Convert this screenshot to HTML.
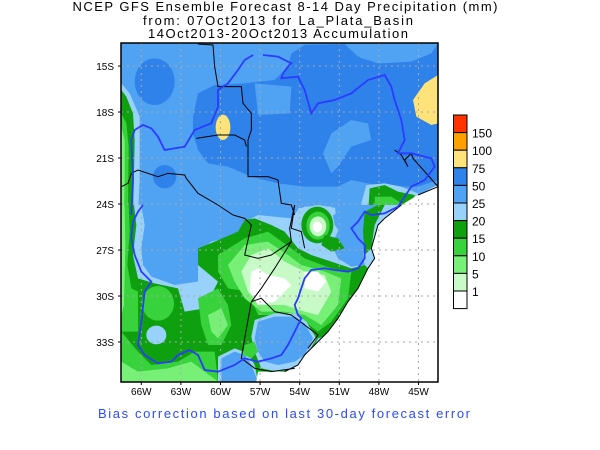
<!DOCTYPE html>
<html><head><meta charset="utf-8"><style>
html,body{margin:0;padding:0;background:#fff;}
svg{display:block;font-family:"Liberation Sans",sans-serif;}
polyline{vector-effect:non-scaling-stroke;}
</style></head><body>
<svg width="600" height="450" viewBox="0 0 600 450">
<defs><clipPath id="mc"><rect x="121" y="43" width="317" height="339"/></clipPath></defs>
<g font-size="13" fill="#000" text-anchor="middle">
<text x="285" y="11" textLength="425">NCEP GFS Ensemble Forecast 8-14 Day Precipitation (mm)</text>
<text x="278" y="25" textLength="270">from: 07Oct2013   for La_Plata_Basin</text>
<text x="278" y="38" textLength="260">14Oct2013-20Oct2013 Accumulation</text>
</g>
<g clip-path="url(#mc)">
<rect x="121" y="43" width="317" height="339" fill="#50a2f2"/>
<g transform="translate(118,40) scale(0.33333)">
 <ellipse cx="110" cy="125" rx="60" ry="70" fill="#2f82ea"/>
 <polygon fill="#2f82ea" points="225,230 240,160 290,135 380,130 470,120 510,80 520,40 560,15 680,12 720,50 780,70 870,60 930,20 960,12 960,420 900,440 800,440 700,420 660,440 560,440 480,430 400,410 330,380 270,370 240,330 225,280"/>
 <polygon fill="#50a2f2" points="615,340 640,280 700,240 750,250 760,300 700,320 660,380 640,400"/>
 <polygon fill="#50a2f2" points="410,130 520,140 515,220 420,225"/>
 <polygon fill="#50a2f2" points="680,10 960,10 940,40 880,65 790,70 730,55"/>
 <ellipse cx="140" cy="410" rx="35" ry="35" fill="#2f82ea"/>
 <ellipse cx="315" cy="262" rx="22" ry="38" fill="#fde37a"/>
 <polygon fill="#fde37a" points="960,105 920,130 885,180 895,230 940,255 960,250"/>
 <polygon fill="#98d2fa" points="10,130 35,160 65,230 65,420 60,525 10,525"/>
 <polygon fill="#0fa00f" points="10,150 25,170 45,220 50,300 48,400 45,525 10,525"/>
 <polygon fill="#37d23c" points="10,220 25,250 32,320 30,525 10,525"/>
 <polygon fill="#78f078" points="10,260 20,300 20,420 18,525 10,525"/>
 <polygon fill="#98d2fa" points="745,435 800,430 850,440 900,460 900,525 720,525"/>
 <polygon fill="#0fa00f" points="755,445 800,435 840,455 890,465 880,525 750,525"/>
 <polygon fill="#37d23c" points="770,470 820,470 850,490 820,525 770,525"/>
 <polygon fill="#98d2fa" points="540,505 600,495 660,505 650,525 540,525"/>
 <polygon fill="#0fa00f" points="555,515 600,500 640,505 640,525 555,525"/>
</g>
<g transform="translate(118,205) scale(0.33333)">
 <polygon fill="#98d2fa" points="70,0 80,60 70,130 75,180 100,215 170,240 240,230 240,140 280,110 360,90 380,50 420,30 520,40 540,15 560,5 640,5 650,60 680,100 700,50 740,20 800,0 960,0 960,530 10,530 10,0"/>
 <polygon fill="#50a2f2" points="80,0 90,60 85,150 100,190 170,215 220,210 215,140 260,100 350,75 370,30 420,12 520,20 530,0"/>
 <polygon fill="#50a2f2" points="650,0 800,0 760,40 745,90 735,150 740,180 700,185 660,160 640,120 660,80"/>
 <polygon fill="#0fa00f" points="10,0 48,0 55,60 45,150 60,220 110,235 180,250 200,320 260,310 300,230 240,180 240,130 290,110 360,80 380,45 410,40 460,60 500,80 540,130 580,150 640,170 700,190 740,180 760,200 700,300 660,380 600,400 550,490 500,530 10,530"/>
 <polygon fill="#37d23c" points="10,0 32,0 35,80 28,180 40,250 60,260 60,380 10,380"/>
 <polygon fill="#78f078" points="10,0 20,0 22,120 18,300 10,330"/>
 <polygon fill="#37d23c" points="10,380 60,440 100,480 180,470 230,440 290,440 300,530 10,530"/>
 <ellipse cx="120" cy="295" rx="48" ry="52" fill="#37d23c"/>
 <ellipse cx="115" cy="390" rx="30" ry="28" fill="#98d2fa"/>
 <polygon fill="#37d23c" points="240,280 300,250 330,300 340,360 310,420 270,420 250,360"/>
 <polygon fill="#37d23c" points="300,150 380,100 450,80 520,130 560,160 640,190 700,200 690,280 640,350 600,380 560,350 520,330 460,330 420,330 390,260 330,250 300,200"/>
 <polygon fill="#78f078" points="330,180 380,120 450,110 510,150 550,180 620,200 670,220 660,300 610,360 560,330 500,320 430,320 380,280 350,230"/>
 <polygon fill="#78f078" points="10,470 60,500 150,490 220,470 260,500 300,530 10,530"/>
 <polygon fill="#78f078" points="270,330 310,310 330,360 300,400 280,380"/>
 <polygon fill="#c8fac8" points="370,200 400,150 450,130 500,170 560,200 620,210 640,260 600,330 560,320 500,300 430,300 390,260"/>
 <polygon fill="#fff" points="400,200 420,190 450,210 500,220 520,240 470,290 420,300 395,260"/>
 <polygon fill="#fff" points="560,200 600,200 625,230 600,260 560,250"/>
 <ellipse cx="598" cy="60" rx="48" ry="55" fill="#0fa00f"/>
 <ellipse cx="600" cy="62" rx="35" ry="42" fill="#37d23c"/>
 <ellipse cx="600" cy="64" rx="25" ry="30" fill="#c8fac8"/>
 <ellipse cx="598" cy="66" rx="14" ry="16" fill="#fff"/>
 <polygon fill="#0fa00f" points="620,90 660,100 680,130 640,140 610,120"/>
 <polygon fill="#0fa00f" points="740,20 780,0 800,0 770,60 760,130 740,150 735,80"/>
 <polygon fill="#98d2fa" points="410,345 470,325 530,325 565,350 595,400 565,455 530,490 480,500 430,490 410,440 400,395"/>
 <polygon fill="#50a2f2" points="420,350 470,335 530,335 560,355 585,400 560,450 530,470 480,480 440,470 420,440 410,400"/>
 <polygon fill="#98d2fa" points="300,455 350,430 390,445 410,480 420,530 300,530"/>
 <polygon fill="#50a2f2" points="310,460 350,440 380,450 400,480 420,530 310,530"/>
 <polygon fill="#37d23c" points="380,420 410,410 420,440 400,460 375,450"/>
 <polygon fill="#fff" points="850,0 800,40 780,60 760,130 770,160 750,190 720,250 690,290 660,340 630,380 600,410 560,450 540,480 500,500 450,500 420,500 415,530 960,530 960,-60 900,-30"/>
</g>
<g stroke="#aaa" stroke-width="1" stroke-dasharray="2,4">
 <line x1="141.3" y1="43" x2="141.3" y2="382"/><line x1="180.9" y1="43" x2="180.9" y2="382"/><line x1="220.5" y1="43" x2="220.5" y2="382"/><line x1="260.1" y1="43" x2="260.1" y2="382"/><line x1="299.7" y1="43" x2="299.7" y2="382"/><line x1="339.3" y1="43" x2="339.3" y2="382"/><line x1="378.9" y1="43" x2="378.9" y2="382"/><line x1="418.5" y1="43" x2="418.5" y2="382"/>
 <line x1="121" y1="66" x2="438" y2="66"/><line x1="121" y1="112" x2="438" y2="112"/><line x1="121" y1="158" x2="438" y2="158"/><line x1="121" y1="204" x2="438" y2="204"/><line x1="121" y1="250" x2="438" y2="250"/><line x1="121" y1="296" x2="438" y2="296"/><line x1="121" y1="342" x2="438" y2="342"/>
</g>
<g fill="none" stroke="#000" stroke-width="1">
 <polyline transform="translate(118,40) scale(0.33333)" points="240,12 285,15 290,80 300,140 370,140 375,190 400,220 400,270 390,300 390,410 450,410 480,420 490,490 520,495 530,525"/>
 <polyline transform="translate(118,40) scale(0.33333)" points="235,295 300,285 350,285 380,300 385,320"/>
 <polyline transform="translate(118,40) scale(0.33333)" points="10,440 30,430 40,400 60,390 120,410 150,400 200,405 205,415 240,460 300,495 345,525"/>
 <polyline transform="translate(118,40) scale(0.33333)" points="830,330 850,345 870,380 860,360 880,340 885,355 960,440 900,465"/>
 <polyline transform="translate(118,205) scale(0.33333)" points="345,30 380,40 400,60 380,150 420,160 460,150 490,130 520,110 515,70 530,0"/>
 <polyline transform="translate(118,205) scale(0.33333)" points="520,110 470,190 430,250 400,290 380,400 370,460 410,490 460,500 530,490"/>
 <polyline transform="translate(118,205) scale(0.33333)" points="400,290 430,280 470,320 520,330 560,360 600,390 570,430"/>
 <polyline transform="translate(118,205) scale(0.33333)" points="530,0 520,70 550,80 560,130"/>
 <polyline transform="translate(118,205) scale(0.33333)" points="850,0 800,40 780,60 760,130 770,160 750,190 720,250 690,290 660,340 630,380 600,410 560,450 540,480 500,500"/>
</g>
<g fill="none" stroke="#2a3cff" stroke-width="1.8">
 <polyline transform="translate(118,40) scale(0.33333)" points="40,525 45,420 40,300 50,270 75,255 100,265 120,290 140,330 200,320 230,270 280,250 300,200 300,150 330,130 360,90 380,60 405,45"/>
 <polyline transform="translate(118,40) scale(0.33333)" points="435,45 480,50 500,60 520,70 510,80 495,100 490,115 540,110 560,150 580,220 600,190 650,180 700,160 750,120 800,105 820,140 830,180 850,240 860,300 840,340 880,340 940,355 950,380 920,420 880,440 860,470 840,500 800,520 760,525"/>
 <polyline transform="translate(118,205) scale(0.33333)" points="760,30 740,20 720,50 700,70 720,100 740,120 740,160 720,190 690,200 650,195 620,190 580,195 560,220 550,250 540,280 530,300 540,330 550,340 530,380 510,420 490,450 460,460 420,470 380,460 350,480 300,500 260,495 240,450 215,435 180,450 160,470 120,475 80,450 60,420 70,350 80,260 100,230 70,200 50,150 40,100 45,50 60,20 75,0"/>
</g>
</g>
<rect x="121" y="43" width="317" height="339" fill="none" stroke="#000" stroke-width="1.5"/>
<g id="axes" font-size="10" fill="#000"></g>
<g id="legend"></g>
<text x="284" y="418" font-size="13" fill="#2a4bff" text-anchor="middle" textLength="372">Bias correction based on last 30-day forecast error</text>
<script>
const lonLabels = ["66W","63W","60W","57W","54W","51W","48W","45W"];
const latLabels = ["15S","18S","21S","24S","27S","30S","33S"];
const legendLevels = ["150","100","75","50","25","20","15","10","5","1"];
const legendColors = ["#ff3200","#ffa000","#fde37a","#2f82ea","#50a2f2","#98d2fa","#0fa00f","#37d23c","#78f078","#c8fac8","#ffffff"];
const NS = "http://www.w3.org/2000/svg";
const ax = document.getElementById("axes");
const xOf = i => 141.3 + i * 39.6;
const yOf = i => 66 + i * 46;
lonLabels.forEach((l, i) => {
  const t = document.createElementNS(NS, "text");
  t.setAttribute("x", xOf(i)); t.setAttribute("y", 395); t.setAttribute("text-anchor", "middle");
  t.textContent = l;
  
  
  ax.appendChild(t);
  const k = document.createElementNS(NS, "line");
  k.setAttribute("x1", xOf(i)); k.setAttribute("x2", xOf(i)); k.setAttribute("y1", 382); k.setAttribute("y2", 385); k.setAttribute("stroke", "#000");
  
  
  ax.appendChild(k);
});
latLabels.forEach((l, i) => {
  const t = document.createElementNS(NS, "text");
  t.setAttribute("x", 114); t.setAttribute("y", yOf(i) + 4); t.setAttribute("text-anchor", "end");
  t.textContent = l;
  
  
  ax.appendChild(t);
  const k = document.createElementNS(NS, "line");
  k.setAttribute("x1", 118); k.setAttribute("x2", 121); k.setAttribute("y1", yOf(i)); k.setAttribute("y2", yOf(i)); k.setAttribute("stroke", "#000");
  
  
  ax.appendChild(k);
});
const lg = document.getElementById("legend");
const bh = 17.6, top0 = 115;
legendColors.forEach((c, i) => {
  const r = document.createElementNS(NS, "rect");
  r.setAttribute("x", 453.5); r.setAttribute("y", top0 + i * bh); r.setAttribute("width", 13.5); r.setAttribute("height", bh);
  r.setAttribute("fill", c); r.setAttribute("stroke", "#000"); r.setAttribute("stroke-width", "1");
  
  
  lg.appendChild(r);
});
legendLevels.forEach((l, i) => {
  const t = document.createElementNS(NS, "text");
  t.setAttribute("x", 472); t.setAttribute("y", top0 + (i + 1) * bh + 5); t.setAttribute("font-size", "12");
  t.textContent = l;
  
  
  lg.appendChild(t);
});
</script>
</svg>
</body></html>
